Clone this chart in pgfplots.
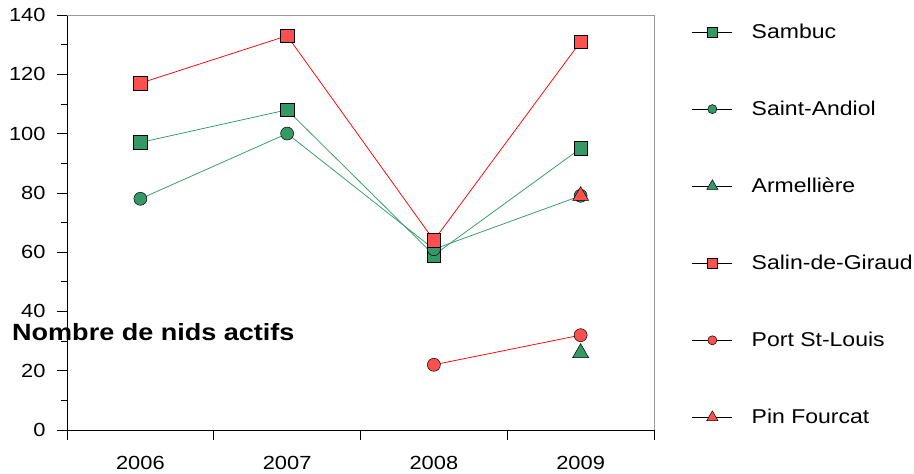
\documentclass[border=0pt]{standalone}
\usepackage{fontspec}
\setmainfont{Liberation Sans}[FakeStretch=1.15]
\usepackage{pgfplots}
\pgfplotsset{compat=1.18}
\definecolor{sgreen}{RGB}{51,153,102}
\definecolor{mred}{RGB}{255,80,80}
\definecolor{lred}{RGB}{255,0,0}

\begin{document}
\begin{tikzpicture}
\useasboundingbox (0,0) rectangle (914bp,474bp);
\begin{axis}[
  at={(67bp,44bp)}, anchor=south west,
  width=587bp, height=415bp, scale only axis,
  xmin=-0.5, xmax=3.5, ymin=0, ymax=140,
  axis x line*=bottom, axis y line*=left,
  axis line style={black, line width=0.8pt, -},
  xtick={-0.5,0.5,1.5,2.5,3.5}, xticklabels={},
  extra x ticks={0,1,2,3},
  extra x tick labels={2006,2007,2008,2009},
  extra x tick style={major tick style={draw=none}},
  ytick={0,20,...,140}, minor ytick={10,30,...,130},
  tick align=outside,
  major tick length=10bp, minor tick length=6bp,
  tick style={black, line width=0.6pt},
  /pgf/number format/assume math mode=true,
  ticklabel style={font=\fontsize{19bp}{22bp}\selectfont},
  xticklabel style={yshift=-13bp},
  yticklabel style={xshift=-8bp},
  clip=false,
  legend cell align=left,
  legend style={draw=none, fill=none, inner sep=0pt, outer sep=0pt,
    at={(axis description cs:1.0647,0.978)}, anchor=north west,
    row sep=61bp,
    font=\fontsize{20bp}{24bp}\selectfont,
    nodes={inner sep=0pt},
    /tikz/every odd column/.append style={column sep=19bp}},
  legend image code/.code={
    \draw[draw=black, line width=0.75bp] (0bp,0bp) -- (40bp,0bp);
    \draw[/tikz/every mark/.append style={scale=0.7}] plot coordinates {(20bp,0bp)};
  },
]
% Sambuc
\addplot[color=sgreen, line width=0.75bp, mark=square*, mark size=6.75bp,
  mark options={fill=sgreen, draw=black, line width=0.5bp}]
  coordinates {(0,97) (1,108) (2,59) (3,95)};
\addlegendentry{Sambuc}
% Saint-Andiol
\addplot[color=sgreen, line width=0.75bp, mark=*, mark size=6.5bp,
  mark options={fill=sgreen, draw=black, line width=0.5bp}]
  coordinates {(0,78) (1,100) (2,61) (3,79)};
\addlegendentry{Saint-Andiol}
% Armellière
\addplot[color=sgreen, line width=0.75bp, mark=triangle*, mark size=9.2bp,
  mark options={fill=sgreen, draw=black, line width=0.5bp}]
  coordinates {(3,26)};
\addlegendentry{Armellière}
% Salin-de-Giraud
\addplot[color=lred, line width=0.75bp, mark=square*, mark size=6.75bp,
  mark options={fill=mred, draw=black, line width=0.5bp}]
  coordinates {(0,117) (1,133) (2,64) (3,131)};
\addlegendentry{Salin-de-Giraud}
% Port St-Louis
\addplot[color=lred, line width=0.75bp, mark=*, mark size=6.5bp,
  mark options={fill=mred, draw=black, line width=0.5bp}]
  coordinates {(2,22) (3,32)};
\addlegendentry{Port St-Louis}
% Pin Fourcat
\addplot[color=lred, line width=0.75bp, mark=triangle*, mark size=9.2bp,
  mark options={fill=mred, draw=black, line width=0.5bp}]
  coordinates {(3,79)};
\addlegendentry{Pin Fourcat}

% grey top and right frame
\draw[gray!80, line width=0.8pt] (rel axis cs:0,1) -- (rel axis cs:1,1) -- (rel axis cs:1,0);

\node[anchor=base west, inner sep=0pt,
  font=\bfseries\fontsize{23.5bp}{28bp}\selectfont]
  at (rel axis cs:-0.0937,0.2145) {Nombre de nids actifs};
\end{axis}
\end{tikzpicture}
\end{document}
